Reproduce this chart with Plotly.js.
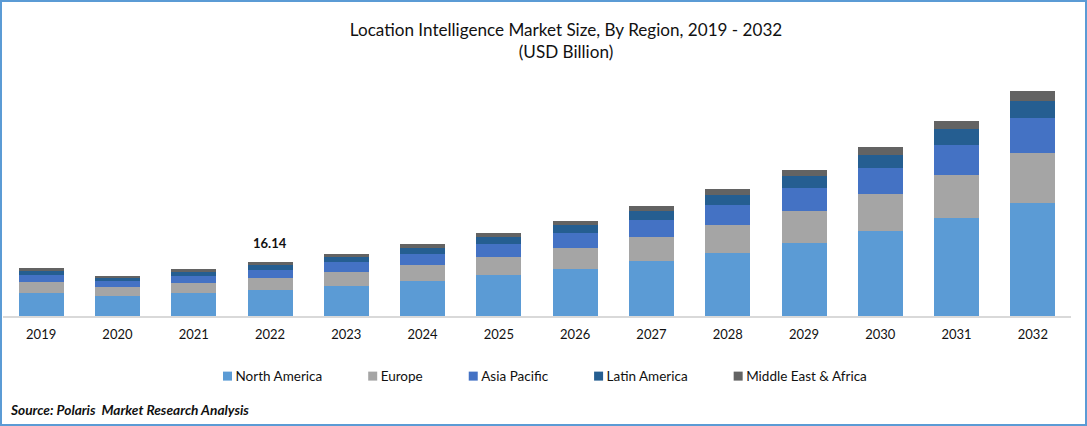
<!DOCTYPE html>
<html><head><meta charset="utf-8">
<script src="https://cdn.plot.ly/plotly-3.0.1.min.js"></script>
<style>
html,body{margin:0;padding:0;background:#fff;overflow:hidden}
#chart{width:1087px;height:426px}
#frame{position:absolute;left:0;top:0;width:1083px;height:422px;border:2px solid #5b9bd5;pointer-events:none}
</style></head><body>
<div id="chart"></div><div id="frame"></div>
<script>
const years = ['2019','2020','2021','2022','2023','2024','2025','2026','2027','2028','2029','2030','2031','2032'];
const northAmerica = [6.87,5.98,6.87,7.77,8.97,10.46,12.25,14.05,16.44,18.83,21.82,25.41,29.29,33.78];
const europe = [3.29,2.69,2.99,3.59,4.18,4.78,5.38,6.28,7.17,8.37,9.56,11.06,12.85,14.95];
const asiaPacific = [2.09,1.79,2.09,2.39,2.99,3.29,3.89,4.48,5.08,5.98,6.87,7.77,8.97,10.46];
const latinAmerica = [1.20,0.90,1.20,1.49,1.49,1.79,2.09,2.39,2.69,2.99,3.59,3.89,4.78,5.08];
const middleEastAfrica = [0.90,0.60,0.90,0.90,0.90,1.20,1.20,1.20,1.49,1.79,1.79,2.39,2.39,2.99];
const seriesNames = ['North America','Europe','Asia Pacific','Latin America','Middle East & Africa'];
const seriesValues = [northAmerica,europe,asiaPacific,latinAmerica,middleEastAfrica];
const seriesColors = ['#5b9bd5','#a5a5a5','#4472c4','#255e91','#636363'];
const W = 1087, H = 426;
const m = {l:3.4, r:16.4, t:80, b:110};
const F = 'Lato, "Open Sans", sans-serif';
const INK = '#111';
const data = seriesNames.map((n,i)=>({type:'bar',name:n,x:years,y:seriesValues[i],
  marker:{color:seriesColors[i],line:{width:0}},hoverinfo:'x+y+name'}));
const layout = {
  width:W,height:H,margin:m,barmode:'stack',bargap:0.41,
  paper_bgcolor:'#fff',plot_bgcolor:'#fff',showlegend:true,
  font:{family:F,color:INK},
  title:{text:'Location Intelligence Market Size, By Region, 2019 - 2032<br>(USD Billion)',
    font:{family:F,size:17.1,color:INK},x:566/W,xanchor:'center',xref:'container',y:1-36/H,yanchor:'top',yref:'container'},
  xaxis:{type:'category',range:[-0.5,13.5],showgrid:false,zeroline:false,showline:true,linecolor:'#d9d9d9',linewidth:1.5,
    ticks:'',ticklabelstandoff:6,tickfont:{family:F,size:13,color:INK},automargin:false},
  yaxis:{range:[0,70.54],visible:false,fixedrange:true,automargin:false},
  legend:{orientation:'h',x:(210-m.l)/(W-m.l-m.r),xanchor:'left',y:-0.19,yanchor:'top',
    font:{family:F,size:13.5,color:INK},traceorder:'normal',itemclick:false,itemdoubleclick:false},
  annotations:[
    {text:'<b>16.14</b>',x:years.indexOf('2022'),y:16.14,xref:'x',yref:'y',yshift:19,showarrow:false,xanchor:'center',yanchor:'middle',font:{family:F,size:13,color:INK}},
    {text:'<b><i>Source: Polaris  Market Research Analysis</i></b>',xref:'paper',yref:'paper',x:(8-m.l)/(W-m.l-m.r),y:-(409-(H-m.b))/(H-m.t-m.b),xanchor:'left',yanchor:'middle',showarrow:false,font:{family:F,size:13.7,color:INK}}
  ]
};
// Excel-style legend spacing: small square close to its label, wide gap between entries.
function tightenLegend(gd){
  const legendLeft = gd.querySelector('.legend').getBoundingClientRect().left;
  const swatchScale = 0.75, swatchToText = 12.5, entryGap = 46, startX = 223;
  const scrollbox = gd.querySelector('.legend .scrollbox');
  if(scrollbox) scrollbox.removeAttribute('clip-path');
  let cursor = startX - legendLeft;
  const parent = gd.querySelector('.legend').getAttribute('transform').match(/translate\(([-\d.]+)/);
  cursor = startX - parseFloat(parent[1]);
  gd.querySelectorAll('.legend .traces').forEach(tr=>{
    const txt = tr.querySelector('.legendtext');
    const y = (tr.getAttribute('transform').match(/[,\s]([-\d.]+)\)/)||[0,0])[1];
    tr.setAttribute('transform',`translate(${cursor},${y})`);
    tr.querySelectorAll('.legendpoints path').forEach(p=>p.setAttribute('transform',`translate(4.5,0) scale(${swatchScale})`));
    const lp = tr.querySelector('.legendbar, .legendbars');
    if(lp) lp.setAttribute('transform','');
    const lt = tr.querySelector('.legendpoints');
    if(lt) lt.setAttribute('transform','');
    txt.setAttribute('x',swatchToText);
    cursor += swatchToText + txt.getComputedTextLength() + entryGap;
  });
}
Plotly.newPlot('chart',data,layout,{displayModeBar:false,responsive:false}).then(tightenLegend);
</script></body></html>
